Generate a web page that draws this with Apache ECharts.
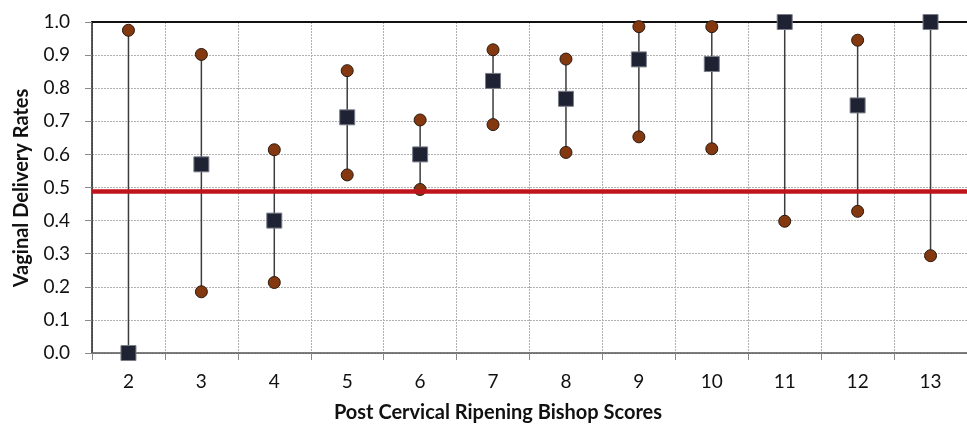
<!DOCTYPE html>
<html>
<head>
<meta charset="utf-8">
<script src="https://cdn.jsdelivr.net/npm/echarts@6/dist/echarts.min.js"></script>
<style>
  html, body { margin: 0; padding: 0; background: #ffffff; }
  #chart { width: 967px; height: 430px; }
</style>
</head>
<body>
<div id="chart"></div>
<script>
// Bishop score categories
const bishopScores = ['2', '3', '4', '5', '6', '7', '8', '9', '10', '11', '12', '13'];
// Vaginal delivery rate per score
const deliveryRate = [0.0, 0.570, 0.400, 0.712, 0.600, 0.822, 0.768, 0.887, 0.873, 1.0, 0.748, 1.0];
// Lower and upper bounds of the interval
const lowerBound = [0.0, 0.185, 0.213, 0.538, 0.494, 0.690, 0.606, 0.653, 0.617, 0.398, 0.428, 0.294];
const upperBound = [0.975, 0.902, 0.614, 0.853, 0.704, 0.916, 0.888, 0.986, 0.986, 1.0, 0.945, 1.0];
// Reference level
const thresholdRate = 0.492;
// Y tick labels
const yTicks = ['0.0', '0.1', '0.2', '0.3', '0.4', '0.5', '0.6', '0.7', '0.8', '0.9', '1.0'];

const FONT = 'Lato';
const chart = echarts.init(document.getElementById('chart'), null, { renderer: 'canvas' });

const whiskerData = bishopScores.map((c, i) => [i, lowerBound[i], upperBound[i]]);
const boundPoints = [];
bishopScores.forEach((c, i) => {
  boundPoints.push([i, lowerBound[i]]);
  boundPoints.push([i, upperBound[i]]);
});

chart.setOption({
  animation: false,
  backgroundColor: '#ffffff',
  grid: { left: 92, top: 22, width: 884, height: 331, containLabel: false },
  xAxis: [
    {
      type: 'category',
      data: bishopScores,
      position: 'bottom',
      boundaryGap: true,
      axisLine: { show: true, lineStyle: { color: '#555555', width: 1.5 } },
      axisTick: { show: true, length: 7, lineStyle: { color: '#888888', width: 1 } },
      axisLabel: { margin: 19, color: '#111111', fontFamily: FONT, fontSize: 19 },
      splitLine: { show: true, lineStyle: { color: '#b0b0b0', width: 1, type: [2, 1] } }
    },
    {
      type: 'category',
      data: bishopScores,
      position: 'top',
      axisLine: { show: true, lineStyle: { color: '#111111', width: 2 } },
      axisTick: { show: false },
      axisLabel: { show: false },
      splitLine: { show: false }
    }
  ],
  yAxis: {
    type: 'value',
    min: 0,
    max: 1,
    interval: 0.1,
    axisLine: { show: true, lineStyle: { color: '#222222', width: 1.5 } },
    axisTick: { show: true, length: 7, lineStyle: { color: '#888888', width: 1 } },
    axisLabel: {
      margin: 22, color: '#111111', fontFamily: FONT, fontSize: 19,
      formatter: (v) => yTicks[Math.round(v * 10)]
    },
    splitLine: { show: true, lineStyle: { color: '#b0b0b0', width: 1, type: [2, 1] } }
  },
  graphic: [
    {
      type: 'text',
      x: 498, y: 413,
      style: {
        text: 'Post Cervical Ripening Bishop Scores',
        font: 'bold 20px ' + FONT,
        fill: '#111111',
        align: 'center',
        verticalAlign: 'middle'
      }
    },
    {
      type: 'text',
      x: 22, y: 188,
      rotation: Math.PI / 2,
      style: {
        text: 'Vaginal Delivery Rates',
        font: 'bold 20px ' + FONT,
        fill: '#111111',
        align: 'center',
        verticalAlign: 'middle'
      }
    }
  ],
  series: [
    {
      name: 'threshold',
      type: 'line',
      data: [],
      z: 1,
      markLine: {
        silent: true,
        symbol: 'none',
        label: { show: false },
        lineStyle: { color: '#c0141c', width: 4.5, type: 'solid' },
        data: [{ yAxis: thresholdRate }]
      }
    },
    {
      name: 'interval',
      type: 'custom',
      z: 2,
      data: whiskerData,
      encode: { x: 0, y: [1, 2] },
      renderItem: function (params, api) {
        const idx = api.value(0);
        const lo = api.coord([idx, api.value(1)]);
        const hi = api.coord([idx, api.value(2)]);
        return {
          type: 'line',
          shape: { x1: lo[0], y1: lo[1], x2: hi[0], y2: hi[1] },
          style: { stroke: '#3c3c3c', lineWidth: 1.5 }
        };
      }
    },
    {
      name: 'bounds',
      type: 'scatter',
      z: 3,
      symbol: 'circle',
      symbolSize: 12,
      data: boundPoints,
      itemStyle: { color: '#83380f', borderColor: '#2a1a10', borderWidth: 1, opacity: 1 }
    },
    {
      name: 'rate',
      type: 'scatter',
      z: 4,
      symbol: 'rect',
      symbolSize: 15,
      data: deliveryRate.map((v, i) => [i, v]),
      itemStyle: { color: '#1f2233', borderColor: '#7a7e88', borderWidth: 1, opacity: 1 }
    }
  ]
});
</script>
</body>
</html>
